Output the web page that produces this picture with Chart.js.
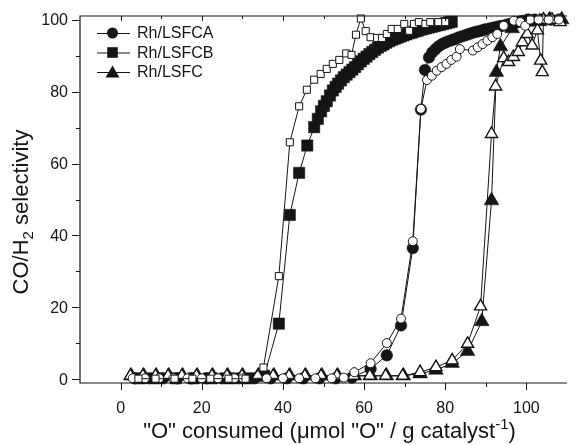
<!DOCTYPE html>
<html><head><meta charset="utf-8">
<script src="https://cdn.jsdelivr.net/npm/chart.js@4/dist/chart.umd.min.js"></script>
<style>html,body{margin:0;padding:0;background:#fff}#wrap{width:576px;height:445px;position:relative}</style>
</head><body><div id="wrap"><canvas id="c" width="576" height="445"></canvas></div>
<script>
// ---- data ----
const xTicks = [0, 20, 40, 60, 80, 100];
const xMinorTicks = [10, 30, 50, 70, 90];
const yTicks = [0, 20, 40, 60, 80, 100];
const yMinorTicks = [10, 30, 50, 70, 90];

// Rh/LSFCA (filled circles) and its open-circle partner
const caFilledX = [3.5,7,10.5,14,17.5,21,25,29,33,37,41,45,49,53,57,61.6,65.6,69.1,72.0,74.0,75.0,76.0,76.8,77.6,78.4,79.2,80.0,80.8,81.6,82.4,83.2,84.0,84.8,85.6,86.4,87.2,88.0,88.8,89.6,90.4,91.2,92.0,92.8,93.6,94.4,95.2,96.0,96.8,97.6,98.5,99.5,100.5,102,104,106,108];
const caFilledY = [0.3,0.3,0.3,0.3,0.3,0.3,0.3,0.3,0.3,0.3,0.3,0.3,0.3,0.3,0.5,2.9,6.7,15.0,36.5,75.0,86.0,89.5,90.9,91.8,92.6,93.2,93.6,94.0,94.3,94.6,95.0,95.3,95.6,95.9,96.2,96.5,96.7,96.9,97.2,97.4,97.6,97.8,98.0,98.2,98.3,98.6,98.8,99.0,99.2,99.5,99.7,100,100,100,100,100];
const caOpenX = [3,6,9.5,13,16.5,20,24,28,30.2,36,40,44,48,52,55,57.6,61.6,65.6,69.1,72.0,74.0,75.5,76.7,77.9,79.1,80.3,81.5,82.8,83.6,86.8,88.0,89.2,90.4,91.6,92.8,94.4,96.9,98.5,99.7,100.9,103,105.5,108];
const caOpenY = [0.3,0.3,0.3,0.3,0.3,0.3,0.3,0.3,0.3,0.3,0.3,0.3,0.3,0.3,0.5,2.0,4.5,10.1,16.9,38.4,75.2,83.2,84.4,85.8,86.8,87.7,88.8,89.7,91.8,91.4,92.3,93.2,94.2,95.1,96.0,98.3,99.7,99.3,98.3,100,100,100,100];

// Rh/LSFCB (filled squares) and its open-square partner
const cbFilledX = [4.7,8.9,13.6,18,22.4,26.9,31.1,35.4,39.0,41.7,44.0,46.0,47.7,48.6,49.4,50.1,50.8,51.6,52.3,53.0,53.6,54.3,55.0,55.7,56.4,57.1,57.8,58.5,59.2,59.9,60.6,61.3,62.0,62.7,63.4,64.1,64.8,65.5,66.2,66.9,67.6,68.3,69.0,69.7,70.4,71.1,71.8,72.5,73.2,73.9,74.6,75.3,76.0,76.7,77.4,78.1,78.8,79.5,80.2,80.9,81.6];
const cbFilledY = [0.3,0.3,0.3,0.3,0.3,0.3,0.3,1.0,15.5,45.7,57.4,65.0,70.1,72.4,74.5,76.0,77.3,78.9,80.3,81.3,82.2,83.1,84.0,84.7,85.4,86.1,86.8,87.6,88.4,89.1,89.7,90.4,91.0,91.6,92.2,92.7,93.1,93.6,94.0,94.4,94.7,95.0,95.3,95.6,95.9,96.2,96.4,96.7,96.9,97.2,97.4,97.6,97.8,98.0,98.2,98.4,98.6,98.8,99.0,99.2,99.4];
const cbOpenX = [4.4,8.6,13.3,17.7,22.1,26.6,30.8,35.2,39.0,41.7,44.0,45.9,47.7,49.3,50.8,52.3,53.9,55.6,56.9,58.0,59.2,60.4,61.6,63.2,64.4,65.6,66.8,68.3,69.9,71.1,72.3,73.5,75.1,76.3,78.3,80.0];
const cbOpenY = [0.2,0.2,0.2,0.2,0.2,0.2,0.2,3.3,28.7,65.9,75.9,80.5,83.3,84.9,86.3,87.7,88.8,90.6,90.2,95.8,100.3,96.8,95.1,94.9,94.9,96.0,97.4,97.4,98.8,96.9,98.8,99.3,98.8,99.3,99.3,99.3];

// Rh/LSFC (filled triangles) and its open-triangle partner
const cFilledX = [2.6,5.7,8.8,11.9,15.3,18.9,22.7,26.4,30.1,34.0,37.8,41.7,45.6,49.6,53.5,57.6,61.6,65.5,69.7,73.8,77.7,81.7,85.5,89.0,91.4,92.6,93.6,96.5,100.0,103.3,105.7,108.7];
const cFilledY = [1,1,1,1,1,1,1,1,1,1,1,1,1,1,1,1,1,1,1,1.6,2.6,4.5,7.8,16.1,49.7,85.4,92.5,97.5,99.3,99.5,100,100];
const cOpenX = [2.4,5.5,8.6,11.7,15.1,18.7,22.5,26.2,29.9,33.8,37.6,41.5,45.4,49.4,53.3,57.4,61.4,65.3,69.5,73.8,77.7,81.7,85.5,88.7,91.4,92.4,94.4,95.6,96.8,98.0,99.0,100.2,101.4,102.7,103.5,103.9,104.2,106.3,108.3];
const cOpenY = [1,1,1,1,1,1,1,1,1,1,1,1,1,1,1,1,1,1,1,2.0,3.4,5.3,9.9,20.3,68.2,81.4,89.3,88.2,89.6,91.0,93.7,96.0,92.8,97.0,88.6,85.4,100,100,99.3];

const legendLabels = ['Rh/LSFCA', 'Rh/LSFCB', 'Rh/LSFC'];

// ---- build chart ----
const INK = '#151515';
const pts = (xs, ys) => xs.map((x, i) => ({x, y: ys[i]}));
function ds(label, xs, ys, style, r, filled, bw) {
  return {
    label, data: pts(xs, ys), showLine: true, tension: 0,
    borderColor: INK, borderWidth: 1,
    pointStyle: style, pointRadius: r, pointHoverRadius: r,
    pointBackgroundColor: filled ? INK : '#ffffff',
    pointBorderColor: INK, pointBorderWidth: bw,
    clip: 10
  };
}
const datasets = [
  ds('', cbOpenX, cbOpenY, 'rect', 5, false, 1),
  ds('', caOpenX, caOpenY, 'circle', 4.5, false, 1),
  ds('', cOpenX, cOpenY, 'triangle', 7, false, 1.4),
  ds(legendLabels[2], cFilledX, cFilledY, 'triangle', 8.5, true, 0.5),
  ds(legendLabels[1], cbFilledX, cbFilledY, 'rect', 8, true, 0.5),
  ds(legendLabels[0], caFilledX, caFilledY, 'circle', 5.8, true, 0.5)
];

const FONT = '"Liberation Sans", Arial, sans-serif';

function marker(ctx, style, x, y, r) {
  ctx.beginPath();
  if (style === 'circle') ctx.arc(x, y, r, 0, Math.PI * 2);
  else if (style === 'rect') { const s = Math.SQRT1_2 * r; ctx.rect(x - s, y - s, 2 * s, 2 * s); }
  else { ctx.moveTo(x, y - r); ctx.lineTo(x + r * 0.866, y + r / 2); ctx.lineTo(x - r * 0.866, y + r / 2); ctx.closePath(); }
  ctx.fill();
}

const decor = {
  id: 'decor',
  afterDraw(chart) {
    const ctx = chart.ctx, a = chart.chartArea;
    const xs = chart.scales.x, ys = chart.scales.y;
    ctx.save();
    ctx.strokeStyle = INK; ctx.fillStyle = INK; ctx.lineWidth = 1.2;
    // frame
    ctx.beginPath();
    ctx.moveTo(a.right, a.top); ctx.lineTo(a.left, a.top); ctx.lineTo(a.left, a.bottom); ctx.lineTo(a.right, a.bottom);
    ctx.stroke();
    ctx.lineWidth = 1;
    ctx.beginPath();
    xTicks.forEach(v => { const p = Math.round(xs.getPixelForValue(v)) + 0.5;
      ctx.moveTo(p, a.bottom); ctx.lineTo(p, a.bottom + 7);
      ctx.moveTo(p, a.top); ctx.lineTo(p, a.top + 5); });
    xMinorTicks.forEach(v => { const p = Math.round(xs.getPixelForValue(v)) + 0.5;
      ctx.moveTo(p, a.bottom); ctx.lineTo(p, a.bottom + 4);
      ctx.moveTo(p, a.top); ctx.lineTo(p, a.top + 3); });
    yTicks.forEach(v => { const p = Math.round(ys.getPixelForValue(v)) + 0.5;
      ctx.moveTo(a.left - 8, p); ctx.lineTo(a.left, p); });
    yMinorTicks.forEach(v => { const p = Math.round(ys.getPixelForValue(v)) + 0.5;
      ctx.moveTo(a.left - 4, p); ctx.lineTo(a.left, p); });
    ctx.stroke();
    // tick labels
    ctx.font = '16px ' + FONT;
    ctx.textAlign = 'center'; ctx.textBaseline = 'middle';
    xTicks.forEach(v => ctx.fillText(String(v), xs.getPixelForValue(v), 409));
    ctx.textAlign = 'right';
    yTicks.forEach(v => ctx.fillText(String(v), a.left - 12, ys.getPixelForValue(v) + 1));
    // x title
    ctx.textBaseline = 'alphabetic'; ctx.textAlign = 'left';
    const big = '22px ' + FONT, small = '15px ' + FONT;
    const xParts = [['"O" consumed (\u03BCmol "O" / g catalyst', big, 0], ['-1', small, -9], [')', big, 0]];
    let tw = 0; xParts.forEach(p => { ctx.font = p[1]; tw += ctx.measureText(p[0]).width; });
    let cx = (a.left + a.right) / 2 + 6 - tw / 2;
    xParts.forEach(p => { ctx.font = p[1]; ctx.fillText(p[0], cx, 438 + p[2]); cx += ctx.measureText(p[0]).width; });
    // y title
    ctx.save();
    ctx.translate(28, 212); ctx.rotate(-Math.PI / 2);
    const yParts = [['CO/H', big, 0], ['2', small, 5], [' selectivity', big, 0]];
    tw = 0; yParts.forEach(p => { ctx.font = p[1]; tw += ctx.measureText(p[0]).width; });
    cx = -tw / 2;
    yParts.forEach(p => { ctx.font = p[1]; ctx.fillText(p[0], cx, p[2]); cx += ctx.measureText(p[0]).width; });
    ctx.restore();
    // legend
    const rows = [[legendLabels[0], 'circle', 5.5, 33], [legendLabels[1], 'rect', 7.5, 52.5], [legendLabels[2], 'triangle', 8, 72]];
    ctx.font = '16px ' + FONT; ctx.textBaseline = 'middle';
    rows.forEach(r => {
      ctx.beginPath(); ctx.lineWidth = 1; ctx.moveTo(97, r[3] + 0.5); ctx.lineTo(130, r[3] + 0.5); ctx.stroke();
      marker(ctx, r[1], 112.5, r[3] + (r[1] === 'triangle' ? 1.5 : 0), r[2]);
      ctx.fillText(r[0], 137, r[3] + 1);
    });
    ctx.restore();
  }
};

new Chart(document.getElementById('c'), {
  type: 'scatter',
  data: { datasets },
  options: {
    responsive: false, animation: false, devicePixelRatio: 1,
    layout: { padding: { top: 16, right: 0, left: 0, bottom: 0 } },
    plugins: { legend: { display: false }, tooltip: { enabled: false } },
    scales: {
      x: { type: 'linear', min: -10, max: 110,
        ticks: { display: false }, grid: { display: false }, border: { display: false },
        afterFit(s) { s.height = 62; } },
      y: { type: 'linear', min: -1, max: 101,
        ticks: { display: false }, grid: { display: false }, border: { display: false },
        afterFit(s) { s.width = 80; } }
    }
  },
  plugins: [decor]
});
</script>
</body></html>
